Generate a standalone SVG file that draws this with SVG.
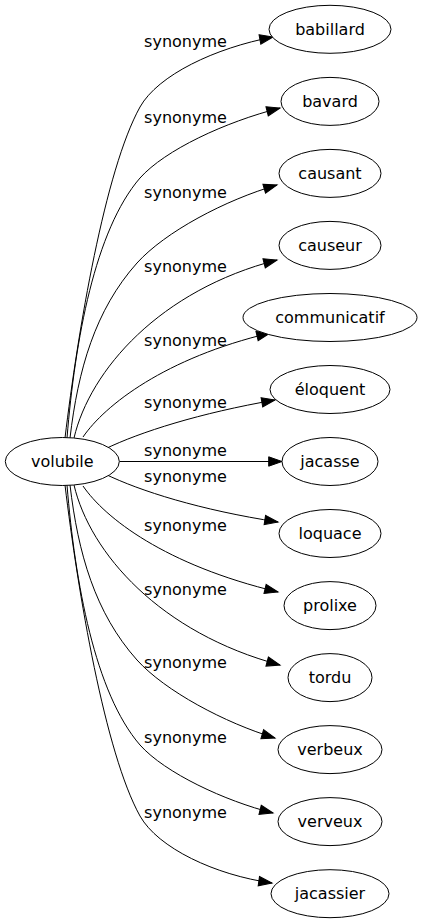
<svg xmlns="http://www.w3.org/2000/svg" width="422" height="923" viewBox="0 0 422 923">
<defs>
<marker id="ah" markerUnits="userSpaceOnUse" markerWidth="16" markerHeight="12" viewBox="0 -6 14 12" refX="13.3" refY="0" orient="auto">
<path d="M0,-4.7 L13.3,0 L0,4.7 z" fill="#000" stroke="#000" stroke-width="1"/>
</marker>
<style>
.n ellipse{fill:#fff;stroke:#000;stroke-width:1}
.n text{font-family:"DejaVu Sans",sans-serif;font-size:16px;text-anchor:middle;fill:#000}
.e path{fill:none;stroke:#000;stroke-width:1;marker-end:url(#ah)}
.e text{font-family:"DejaVu Sans",sans-serif;font-size:16px;text-anchor:middle;fill:#000}
</style>
</defs>
<rect width="422" height="923" fill="#fff"/>
<g id="edges" class="e">
<path d="M65,438 C78,330 105,170 140,107 C158,75 215,48 273,37"/>
<path d="M67,438 C75,340 95,230 140,178 C165,150 225,122 280,108"/>
<path d="M70,438 C78,370 95,310 137,263 C165,232 225,200 277,185"/>
<path d="M74,438 C90,370 160,290 277,260"/>
<path d="M83,437 C105,405 165,358 270,333"/>
<path d="M105,449 C140,432 200,413 275,400"/>
<path d="M119.5,461.5 L282,461.5"/>
<path d="M105,474 C140,491 200,510 278,522"/>
<path d="M83,486 C105,518 165,565 278,592"/>
<path d="M74,485 C90,553 160,633 280,665"/>
<path d="M70,485 C78,553 95,613 137,660 C165,691 225,723 275,738"/>
<path d="M67,485 C75,583 95,693 140,745 C165,773 225,801 273,813"/>
<path d="M65,485 C78,593 105,753 140,816 C158,848 215,875 272,883"/>
<text x="185.5" y="47">synonyme</text>
<text x="185.5" y="123">synonyme</text>
<text x="185.5" y="197.5">synonyme</text>
<text x="185.5" y="272">synonyme</text>
<text x="185.5" y="346">synonyme</text>
<text x="185.5" y="408">synonyme</text>
<text x="185.5" y="455.5">synonyme</text>
<text x="185.5" y="482">synonyme</text>
<text x="185.5" y="531">synonyme</text>
<text x="185.5" y="594.5">synonyme</text>
<text x="185.5" y="668">synonyme</text>
<text x="185.5" y="743">synonyme</text>
<text x="185.5" y="817.5">synonyme</text>
</g>
<g id="volubile" class="n"><ellipse cx="62.3" cy="461.5" rx="57" ry="24"/><text x="62.3" y="467">volubile</text></g>
<g id="babillard" class="n"><ellipse cx="330" cy="29.3" rx="61" ry="24"/><text x="330" y="35">babillard</text></g>
<g id="bavard" class="n"><ellipse cx="330" cy="101.4" rx="49" ry="24"/><text x="330" y="107">bavard</text></g>
<g id="causant" class="n"><ellipse cx="330" cy="173.4" rx="51" ry="24"/><text x="330" y="179">causant</text></g>
<g id="causeur" class="n"><ellipse cx="330" cy="245.4" rx="51" ry="24"/><text x="330" y="251">causeur</text></g>
<g id="communicatif" class="n"><ellipse cx="330" cy="317.5" rx="87" ry="24"/><text x="330" y="323">communicatif</text></g>
<g id="eloquent" class="n"><ellipse cx="330" cy="389.5" rx="60" ry="24"/><text x="330" y="395">éloquent</text></g>
<g id="jacasse" class="n"><ellipse cx="330" cy="461.5" rx="48" ry="24"/><text x="330" y="467">jacasse</text></g>
<g id="loquace" class="n"><ellipse cx="330" cy="533.5" rx="51" ry="24"/><text x="330" y="539">loquace</text></g>
<g id="prolixe" class="n"><ellipse cx="330" cy="605.6" rx="46" ry="24"/><text x="330" y="611">prolixe</text></g>
<g id="tordu" class="n"><ellipse cx="330" cy="677.6" rx="42" ry="24"/><text x="330" y="683">tordu</text></g>
<g id="verbeux" class="n"><ellipse cx="330" cy="749.6" rx="52" ry="24"/><text x="330" y="755">verbeux</text></g>
<g id="verveux" class="n"><ellipse cx="330" cy="821.6" rx="52" ry="24"/><text x="330" y="827">verveux</text></g>
<g id="jacassier" class="n"><ellipse cx="330" cy="893.7" rx="59" ry="24"/><text x="330" y="899">jacassier</text></g>
</svg>
